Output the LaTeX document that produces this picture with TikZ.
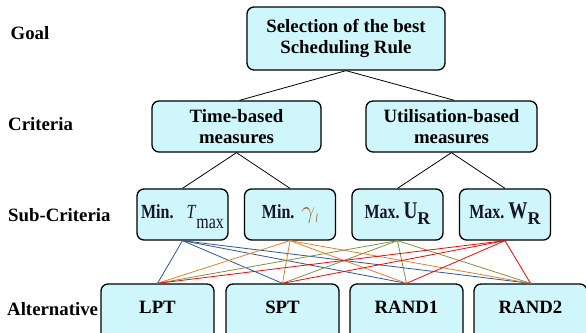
\documentclass[tikz,border=0pt]{standalone}
\usepackage{fontspec}
\setmainfont{Liberation Serif}
\newfontfamily\subfont{Liberation Serif}[FakeStretch=0.8]
\definecolor{boxfill}{RGB}{206,246,251}
\definecolor{lblue}{RGB}{45,85,150}
\definecolor{lorange}{RGB}{235,125,35}
\definecolor{lgreen}{RGB}{120,150,60}
\definecolor{lred}{RGB}{255,0,0}
\definecolor{gamcol}{RGB}{160,105,45}
\definecolor{subtext}{RGB}{25,20,40}
\begin{document}
\begin{tikzpicture}[x=1pt,y=-1pt,
  box/.style={draw=black, line width=1.3pt, fill=boxfill, rounded corners=7pt,
    font=\fontsize{18.8}{21}\selectfont\bfseries, align=center, inner sep=0pt},
  subbox/.style={box, minimum width=91pt, minimum height=51pt,
    font=\subfont\fontsize{20}{20}\selectfont, text=subtext, text height=12pt, text depth=4pt},
  altbox/.style={box, minimum width=113pt, minimum height=56pt,
    text height=8pt, text depth=6pt},
  lvl/.style={anchor=base west, font=\fontsize{18.8}{21}\selectfont\bfseries, inner sep=0pt},
  conn/.style={line width=0.8pt, draw=black},
  cline/.style={line width=0.8pt}]
\useasboundingbox (0,0) rectangle (586,332);
\clip (0,0) rectangle (586,332);

% level labels
\node[lvl] (lgoal) at (10.5,39) {Goal};
\node[lvl] (lcrit) at (8,130) {Criteria};
\node[lvl] (lsub) at (8,221) {Sub-Criteria};
\node[lvl] (lalt) at (7,315.7) {Alternative};

% boxes
\node[box, minimum width=198pt, minimum height=63pt] (goal) at (346,38.5) {Selection of the best\\Scheduling Rule};
\node[box, minimum width=169pt, minimum height=51pt] (time) at (236.5,126.5) {Time-based\\measures};
\node[box, minimum width=171pt, minimum height=51pt] (util) at (451.5,126.5) {Utilisation-based\\measures};

\node[subbox] (s1) at (182.5,214.5) {\textbf{Min.}\hspace{13pt}\textit{T}\raisebox{-9.5pt}{max}};
\node[subbox] (s2) at (290,214.5) {\textbf{Min.}\hspace{7pt}{\color{gamcol}\fontsize{24}{24}\selectfont$\gamma$\raisebox{-4pt}{\fontsize{12}{12}\selectfont\textit{l}}}};
\node[subbox] (s3) at (397.5,214.5) {\textbf{Max.}\hspace{4pt}{\fontsize{24}{24}\selectfont\textbf{U}}\raisebox{-6pt}{\normalfont\fontsize{18}{18}\selectfont\bfseries R}};
\node[subbox] (s4) at (505,214.5) {\textbf{Max.}\hspace{4pt}{\fontsize{24}{24}\selectfont\textbf{W}}\raisebox{-6pt}{\normalfont\fontsize{18}{18}\selectfont\bfseries R}};

\node[altbox] (lpt) at (157.5,312) {LPT};
\node[altbox] (spt) at (282.5,312) {SPT};
\node[altbox] (r1) at (406.5,312) {RAND1};
\node[altbox] (r2) at (530.5,312) {RAND2};

% connectors
\draw[conn] (goal.south) -- ([xshift=3pt]time.north);
\draw[conn] (goal.south) -- ([xshift=3pt]util.north);
\draw[conn] (time.south) -- (s1.north);
\draw[conn] (time.south) -- (s2.north);
\draw[conn] (util.south) -- (s3.north);
\draw[conn] (util.south) -- (s4.north);

\foreach \a in {lpt,spt,r1,r2} \draw[cline, lblue] (s1.south) -- (\a.north);
\foreach \a in {lpt,spt,r1,r2} \draw[cline, lorange] (s2.south) -- (\a.north);
\foreach \a in {lpt,spt,r1,r2} \draw[cline, lgreen] (s3.south) -- (\a.north);
\foreach \a in {lpt,spt,r1,r2} \draw[cline, lred] (s4.south) -- (\a.north);
\end{tikzpicture}
\end{document}
